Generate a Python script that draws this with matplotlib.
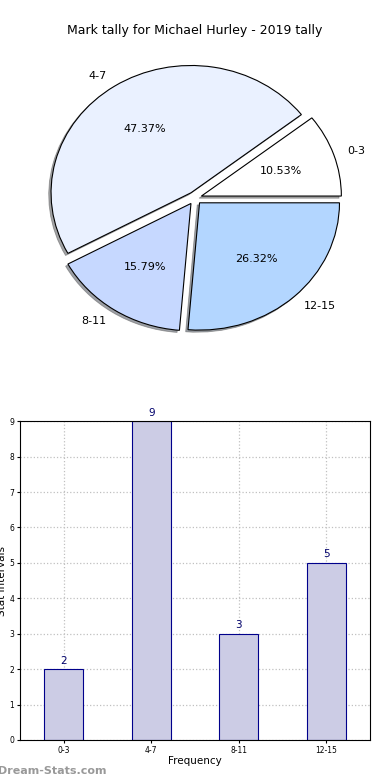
import matplotlib.pyplot as plt
import numpy as np

categories = ["0-3", "4-7", "8-11", "12-15"]
counts = [2, 9, 3, 5]
pie_colors = ["#ffffff", "#eaf1ff", "#c6d8ff", "#b3d6ff"]

fig = plt.figure(figsize=(3.9, 7.8), dpi=100)

# pie on top
ax1 = fig.add_axes([0.051, 0.542, 0.897, 0.408])
wedges, texts, autotexts = ax1.pie(counts, labels=categories, colors=pie_colors,
                                   explode=[0.05] * 4,
                                   shadow={'ox': -0.012, 'oy': -0.012, 'edgecolor': '#555555',
                                           'linewidth': 0.6},
                                   autopct='%.2f%%',
                                   wedgeprops={'edgecolor': 'black', 'linewidth': 0.8},
                                   textprops={'fontsize': 8})
ax1.set_aspect('auto')
ax1.set_xlim(-1.25, 1.25)
ax1.set_ylim(-1.25, 1.25)
fig.text(0.5, 0.961, "Mark tally for Michael Hurley - 2019 tally", ha='center', va='center', fontsize=9)

# bars below
ax2 = fig.add_axes([0.051, 0.0513, 0.898, 0.4087])
x = np.arange(len(categories))
ax2.bar(x, counts, width=0.45, color="#ccccE5", edgecolor="#00008b", linewidth=0.8, zorder=2)
for xi, c in zip(x, counts):
    ax2.text(xi, c + 0.1, str(c), ha='center', va='bottom', fontsize=7.5, color="#00006b")
ax2.set_xlim(-0.5, 3.5)
ax2.set_ylim(0, 9)
ax2.set_xticks(x)
ax2.set_xticklabels(categories)
ax2.set_yticks(range(10))
ax2.tick_params(labelsize=5.5, length=2, pad=2)
ax2.grid(True, linestyle=':', color='#c0c0c0', linewidth=0.9, zorder=0)
ax2.set_axisbelow(True)
ax2.set_xlabel("Frequency", fontsize=7.5, labelpad=1)
ax2.set_ylabel("Stat Intervals", fontsize=7.5, labelpad=2)

fig.text(-0.005, 0.012, "Dream-Stats.com", fontsize=8, color="#999999", fontweight='bold', ha='left', va='center')

fig.savefig("out.png", dpi=100)
